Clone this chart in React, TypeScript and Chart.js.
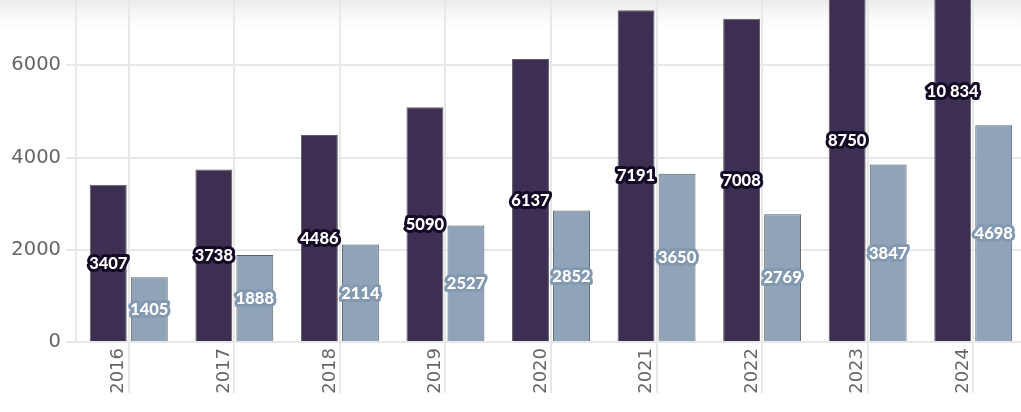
import React, { useEffect, useRef } from "react";
import { Chart, registerables } from "chart.js";

Chart.register(...registerables);

const years = ["2016", "2017", "2018", "2019", "2020", "2021", "2022", "2023", "2024"];
const seriesDark = [3407, 3738, 4486, 5090, 6137, 7191, 7008, 8750, 10834];
const seriesLight = [1405, 1888, 2114, 2527, 2852, 3650, 2769, 3847, 4698];
const yMin = 0;
const yMax = 8000;
const yStep = 2000;

const DARK = "#3c2f51";
const LIGHT = "#8fa4b9";
const DARK_STROKE = "#140a26";
const LIGHT_STROKE = "#8299b0";
const GRID = "#e8e8e8";
const TICK_COLOR = "#666666";

function fmt(v: number): string {
  if (v >= 10000) {
    return String(v).replace(/\B(?=(\d{3})+(?!\d))/g, " ");
  }
  return String(v);
}

const labelPlugin = {
  id: "barLabels",
  afterDatasetsDraw(chart: any) {
    const ctx = chart.ctx;
    const yScale = chart.scales.y;
    const strokes = [DARK_STROKE, LIGHT_STROKE];
    chart.data.datasets.forEach((ds: any, di: number) => {
      const meta = chart.getDatasetMeta(di);
      meta.data.forEach((bar: any, i: number) => {
        const v = ds.data[i] as number;
        const text = fmt(v);
        const px = bar.x;
        const py = yScale.getPixelForValue(v / 2);
        ctx.save();
        ctx.font = "900 16.5px Lato, 'Open Sans', sans-serif";
        ctx.textAlign = "center";
        ctx.textBaseline = "middle";
        ctx.lineJoin = "round";
        ctx.lineWidth = 6;
        ctx.strokeStyle = strokes[di];
        ctx.strokeText(text, px, py);
        ctx.fillStyle = "#ffffff";
        ctx.fillText(text, px, py);
        ctx.restore();
      });
    });
  },
};

export default function App() {
  const canvasRef = useRef<HTMLCanvasElement | null>(null);

  useEffect(() => {
    if (!canvasRef.current) return;
    const chart = new Chart(canvasRef.current, {
      type: "bar",
      data: {
        labels: years,
        datasets: [
          {
            data: seriesDark,
            backgroundColor: DARK,
            borderColor: "#5e5e66",
            borderWidth: 1,
            categoryPercentage: 0.777,
            barPercentage: 0.9,
          },
          {
            data: seriesLight,
            backgroundColor: LIGHT,
            borderColor: "#5a5f66",
            borderWidth: 1,
            categoryPercentage: 0.777,
            barPercentage: 0.9,
          },
        ],
      },
      options: {
        animation: false,
        responsive: true,
        maintainAspectRatio: false,
        layout: { padding: 0 },
        plugins: {
          legend: { display: false },
          tooltip: { enabled: false },
        },
        scales: {
          x: {
            grid: {
              offset: false,
              color: GRID,
              lineWidth: 2,
              tickLength: 51,
              drawTicks: true,
            },
            border: { display: true, color: GRID, width: 2 },
            ticks: {
              minRotation: 90,
              maxRotation: 90,
              padding: -45,
              labelOffset: -10,
              color: TICK_COLOR,
              font: { family: "'DejaVu Sans', Inter, sans-serif", size: 18, weight: "normal" },
            },
            afterFit(scale: any) {
              scale.height = 70;
              scale.paddingLeft = 0;
              scale.paddingRight = 0;
            },
          },
          y: {
            min: yMin,
            max: yMax,
            grid: {
              color: GRID,
              lineWidth: 2,
              tickLength: 10,
            },
            border: { display: true, color: GRID, width: 2 },
            ticks: {
              stepSize: yStep,
              padding: 5,
              color: TICK_COLOR,
              font: { family: "'DejaVu Sans', Inter, sans-serif", size: 19.5, weight: "normal" },
              callback: (v: any) => String(v),
            },
            afterFit(scale: any) {
              scale.width = 76;
              scale.paddingTop = 0;
              scale.paddingBottom = 0;
            },
          },
        },
      },
      plugins: [labelPlugin],
    });
    return () => chart.destroy();
  }, []);

  return (
    <div
      style={{
        position: "fixed",
        left: 0,
        top: 0,
        width: 1021,
        height: 412,
        overflow: "hidden",
        background: "linear-gradient(to bottom, #ebebeb 0px, #f6f6f6 12px, #ffffff 30px)",
      }}
    >
      <div style={{ position: "absolute", left: 0, top: -27, width: 1026, height: 439 }}>
        <canvas ref={canvasRef} />
      </div>
    </div>
  );
}
